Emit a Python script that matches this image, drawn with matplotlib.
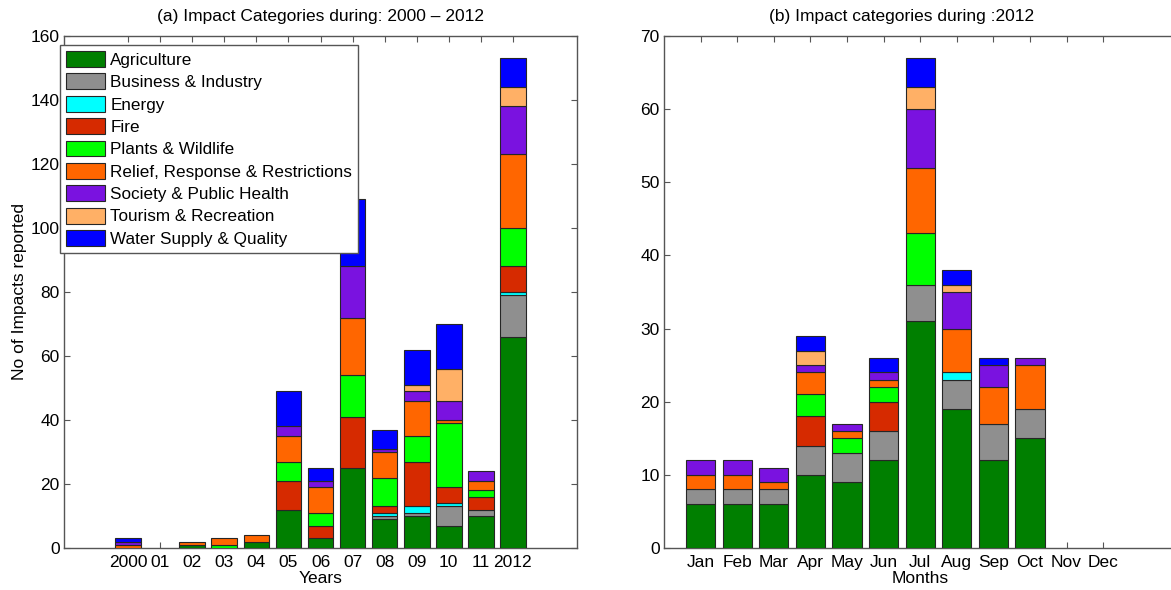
import matplotlib
matplotlib.use("Agg")
import matplotlib.pyplot as plt
import numpy as np

plt.rcParams["font.family"] = ["Liberation Sans", "DejaVu Sans"]

categories = [
    "Agriculture",
    "Business & Industry",
    "Energy",
    "Fire",
    "Plants & Wildlife",
    "Relief, Response & Restrictions",
    "Society & Public Health",
    "Tourism & Recreation",
    "Water Supply & Quality",
]
colors = ["#007f00", "#8f8f8f", "#00ffff", "#d62a00", "#00ff00",
          "#ff6600", "#7a12e0", "#ffb066", "#0000ff"]

# impacts per year, 2000-2012
years = np.arange(2000, 2013)
year_labels = ["2000", "01", "02", "03", "04", "05", "06", "07", "08", "09", "10", "11", "2012"]
agriculture_y = [0, 0, 1, 0, 2, 12, 3, 25, 9, 10, 7, 10, 66]
business_y = [0, 0, 0, 0, 0, 0, 0, 0, 1, 1, 6, 2, 13]
energy_y = [0, 0, 0, 0, 0, 0, 0, 0, 1, 2, 1, 0, 1]
fire_y = [0, 0, 0, 0, 0, 9, 4, 16, 2, 14, 5, 4, 8]
plants_y = [0, 0, 0, 1, 0, 6, 4, 13, 9, 8, 20, 2, 12]
relief_y = [1, 0, 1, 2, 2, 8, 8, 18, 8, 11, 1, 3, 23]
society_y = [1, 0, 0, 0, 0, 3, 2, 16, 1, 3, 6, 3, 15]
tourism_y = [0, 0, 0, 0, 0, 0, 0, 0, 0, 2, 10, 0, 6]
water_y = [1, 0, 0, 0, 0, 11, 4, 21, 6, 11, 14, 0, 9]

# impacts per month, 2012
months = ["Jan", "Feb", "Mar", "Apr", "May", "Jun", "Jul", "Aug", "Sep", "Oct", "Nov", "Dec"]
agriculture_m = [6, 6, 6, 10, 9, 12, 31, 19, 12, 15, 0, 0]
business_m = [2, 2, 2, 4, 4, 4, 5, 4, 5, 4, 0, 0]
energy_m = [0, 0, 0, 0, 0, 0, 0, 1, 0, 0, 0, 0]
fire_m = [0, 0, 0, 4, 0, 4, 0, 0, 0, 0, 0, 0]
plants_m = [0, 0, 0, 3, 2, 2, 7, 0, 0, 0, 0, 0]
relief_m = [2, 2, 1, 3, 1, 1, 9, 6, 5, 6, 0, 0]
society_m = [2, 2, 2, 1, 1, 1, 8, 5, 3, 1, 0, 0]
tourism_m = [0, 0, 0, 2, 0, 0, 3, 1, 0, 0, 0, 0]
water_m = [0, 0, 0, 2, 0, 2, 4, 2, 1, 0, 0, 0]

yearly = [agriculture_y, business_y, energy_y, fire_y, plants_y,
          relief_y, society_y, tourism_y, water_y]
monthly = [agriculture_m, business_m, energy_m, fire_m, plants_m,
           relief_m, society_m, tourism_m, water_m]

FS = 12.5
W, H = 1171, 590
fig = plt.figure(figsize=(W / 100, H / 100), dpi=100)
ax1 = fig.add_axes([64 / W, 1 - 548 / H, 513 / W, 512 / H])
ax2 = fig.add_axes([664 / W, 1 - 548 / H, 512.4 / W, 512 / H])


def stacked(ax, x, series):
    # skip empty segments so no stray edge lines show on the baseline
    x = np.asarray(x)
    bottom = np.zeros(len(x))
    handles = []
    for vals, col, name in zip(series, colors, categories):
        vals = np.asarray(vals, dtype=float)
        keep = vals > 0
        h = ax.bar(x[keep], vals[keep], width=0.8, bottom=bottom[keep], color=col,
                   edgecolor="#262626", linewidth=0.8, label=name, zorder=3)
        handles.append(h)
        bottom += vals
    return handles


def style(ax, right=True):
    for spine in ax.spines.values():
        spine.set_edgecolor("#555555")
        spine.set_linewidth(1.0)
    ax.tick_params(direction="in", length=4, width=0.8, color="#555555",
                   top=True, right=right, labelsize=FS, pad=3)
    ax.tick_params(axis="x", pad=5)


handles = stacked(ax1, years, yearly)
ax1.set_xlim(1998, 2014)
ax1.set_ylim(0, 160)
ax1.set_xticks(years)
ax1.set_xticklabels(year_labels)
ax1.set_yticks(np.arange(0, 161, 20))
style(ax1)
ax1.set_title("(a) Impact Categories during: 2000 \u2013 2012", fontsize=FS, pad=11)
ax1.set_xlabel("Years", fontsize=FS, labelpad=1)
ax1.set_ylabel("No of Impacts reported", fontsize=FS, labelpad=3)

leg = fig.legend(handles=handles, labels=categories, loc="upper left",
                 bbox_to_anchor=(60 / W, 1 - 45 / H), fontsize=12.3,
                 frameon=True, fancybox=False, framealpha=1, edgecolor="#555555",
                 handlelength=2.3, handleheight=1.05, labelspacing=0.33,
                 handletextpad=0.3, borderpad=0.35, borderaxespad=0)
leg.get_frame().set_linewidth(1.0)

month_x = np.arange(1, 13)
stacked(ax2, month_x, monthly)
ax2.set_xlim(0, 14)
ax2.set_ylim(0, 70)
ax2.set_xticks(month_x)
ax2.set_xticklabels(months)
ax2.set_yticks(np.arange(0, 71, 10))
style(ax2, right=False)
ax2.set_title("(b) Impact categories during :2012", fontsize=FS, pad=11, x=0.4645)
ax2.set_xlabel("Months", fontsize=FS, labelpad=1)

fig.savefig("out.png", dpi=100)
